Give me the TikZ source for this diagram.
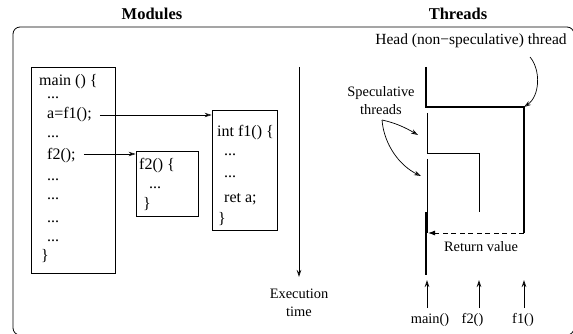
\documentclass[tikz,border=0pt]{standalone}
\usepackage{fontspec}
\setmainfont{Liberation Serif}
\usetikzlibrary{arrows.meta}

\tikzset{
  code/.style={anchor=base west, inner sep=0pt, font=\fontsize{16}{19}\selectfont},
  lbl/.style={inner sep=0pt, font=\fontsize{14.4}{18}\selectfont},
  ttl/.style={inner sep=0pt, font=\fontsize{16.5}{19}\selectfont\bfseries},
  codebox/.style={draw, line width=0.8pt, inner sep=0pt},
  arr/.style={-{Stealth[length=7pt,width=4.5pt,open]}, line width=0.7pt},
  thin thread/.style={line width=0.9pt},
  thick thread/.style={line width=2.4pt},
}

\begin{document}
\begin{tikzpicture}[x=1pt,y=-1pt]
  \useasboundingbox (0,0) rectangle (573,334);

  % titles and frame
  \node[ttl] (modules) at (152,14) {Modules};
  \node[ttl] (threads) at (458,14) {Threads};
  \draw[line width=0.8pt, rounded corners=7pt] (13,27) rectangle (574,335);

  % modules: code boxes
  \node[codebox, minimum width=84pt, minimum height=206pt] (mainbox) at (73,170) {};
  \node[codebox, minimum width=62pt, minimum height=65pt] (f2box) at (167,183.5) {};
  \node[codebox, minimum width=65pt, minimum height=120pt] (f1box) at (244.5,170) {};

  \node[code] (m0) at (39,86) {main () \{};
  \node[code] (m1) at (47,99) {...};
  \node[code] (m2) at (47,119) {a=f1();};
  \node[code] (m3) at (47,138) {...};
  \node[code] (m4) at (47,160) {f2();};
  \foreach \y [count=\i from 5] in {180,200,222,241}
    \node[code] (m\i) at (47,\y) {...};
  \node[code] (m9) at (41,260) {\}};

  \node[code] (b0) at (139,170) {f2() \{};
  \node[code] (b1) at (149,188) {...};
  \node[code] (b2) at (143,208) {\}};

  \node[code] (a0) at (217,137) {int f1() \{};
  \node[code] (a1) at (224,156) {...};
  \node[code] (a2) at (224,178) {...};
  \node[code] (a3) at (224,202) {ret a;};
  \node[code] (a4) at (218,223) {\}};

  \coordinate (callf1) at (f1box.west |- 0,115);
  \coordinate (callf2) at (f2box.west |- 0,154);
  \draw[arr] (m2.east |- callf1) ++(8,0) -- (callf1);
  \draw[arr] (m4.east |- callf2) ++(8,0) -- (callf2);

  % execution time
  \coordinate (t0) at (299,67);
  \coordinate (t1) at (299,277);
  \draw[arr] (t0) -- (t1);
  \node[lbl] (exec) at (299,294) {Execution};
  \node[lbl] (time) at (299,312) {time};

  % threads
  \coordinate (h0) at (426,67);
  \coordinate (h1) at (426,107);
  \coordinate (h2) at (524,107);
  \coordinate (h3) at (524,233);
  \coordinate (s0) at (427,113);
  \coordinate (s1) at (427,153);
  \coordinate (s2) at (479,153);
  \coordinate (s3) at (479,212);
  \coordinate (r0) at (427,159);
  \coordinate (r1) at (427,233);
  \coordinate (m0t) at (426,212);
  \coordinate (m1t) at (426,275);
  \coordinate (ret) at (428,233);

  \draw[thick thread] (h0) -- (h1) -- (h2) -- (h3);
  \draw[thin thread] (s0) -- (s1) -- (s2) -- (s3);
  \draw[thin thread] (r0) -- (r1);
  \draw[thick thread] (m0t) -- (m1t);
  \draw[line width=0.9pt, dash pattern=on 5pt off 3.5pt, -{Latex[length=7pt,width=5pt]}] (h3) -- (ret);
  \node[lbl] (retval) at (481,247) {Return value};

  % calls
  \node[lbl] (cmain) at (430,320) {main()};
  \node[lbl] (cf2) at (472.5,320) {f2()};
  \node[lbl] (cf1) at (523,320) {f1()};
  \coordinate (u0) at (427,308);
  \coordinate (u1) at (479,308);
  \coordinate (u2) at (524,308);
  \draw[arr] (u0) -- ++(0,-28);
  \draw[arr] (u1) -- ++(0,-28);
  \draw[arr] (u2) -- ++(0,-28);

  % annotations
  \node[lbl, font=\fontsize{15.5}{18}\selectfont] (head) at (471,41) {Head (non\textminus speculative) thread};
  \draw[arr] (530,57) .. controls (541,70) and (540,96) .. (h2);
  \node[lbl, align=center] (spec) at (381,101) {Speculative\\threads};
  \coordinate (sp) at (382,120);
  \draw[arr] (sp) .. controls (396,123) and (406,128) .. (418,135);
  \draw[arr] (sp) .. controls (384,145) and (400,166) .. (421,176);
\end{tikzpicture}
\end{document}
